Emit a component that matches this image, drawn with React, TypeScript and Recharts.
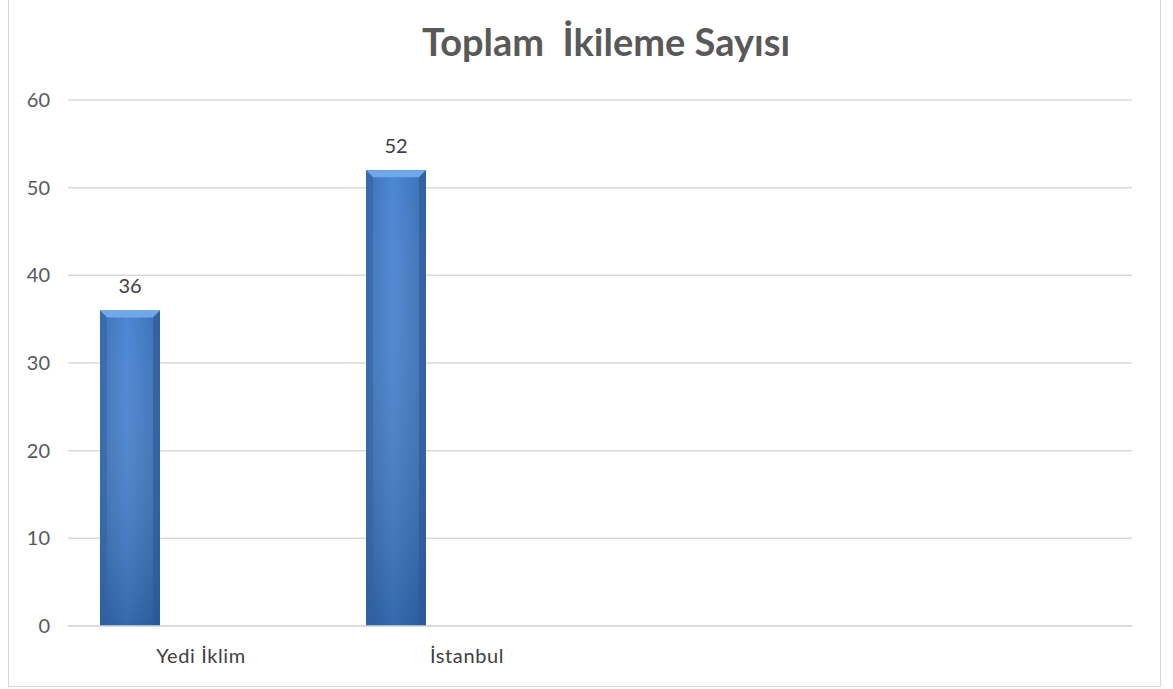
import { BarChart, Bar, XAxis, YAxis, CartesianGrid, LabelList } from "recharts";

// Excel-style clustered column: only the first series has values
const categories = ["Yedi İklim", "İstanbul", "", " "];
const ikilemeSayisi = [36, 52, null, null];
const bosSeri1 = [null, null, null, null];
const bosSeri2 = [null, null, null, null];
const yTicks = [0, 10, 20, 30, 40, 50, 60];

const data = categories.map((name, i) => ({
  name,
  ikileme: ikilemeSayisi[i],
  bos1: bosSeri1[i],
  bos2: bosSeri2[i],
}));

const FONT = "Lato, 'Open Sans', sans-serif";

const BevelBar = (props: any) => {
  const { x, y, width, height } = props;
  if (!height || height <= 0) return null;
  const b = 7;
  return (
    <g>
      <rect x={x} y={y} width={width} height={height} fill="url(#barH)" />
      <rect x={x} y={y} width={width} height={height} fill="url(#barV)" />
      <polygon
        points={`${x},${y} ${x + width},${y} ${x + width - b},${y + b} ${x + b},${y + b}`}
        fill="#6ea7ea"
      />
      <polygon
        points={`${x},${y} ${x + b},${y + b} ${x + b},${y + height} ${x},${y + height}`}
        fill="#2f63a8"
        opacity={0.55}
      />
      <polygon
        points={`${x + width},${y} ${x + width - b},${y + b} ${x + width - b},${y + height} ${x + width},${y + height}`}
        fill="#2a5896"
        opacity={0.6}
      />
    </g>
  );
};

const App = () => {
  return (
    <div
      style={{
        position: "absolute",
        left: 8,
        top: 0,
        width: 1151,
        height: 686,
        borderLeft: "1.5px solid #d9d9d9",
        borderRight: "1.5px solid #d9d9d9",
        borderBottom: "1.5px solid #d9d9d9",
        background: "#fff",
        fontFamily: FONT,
      }}
    >
      <div
        style={{
          position: "absolute",
          left: 0,
          width: 1194,
          top: 18,
          textAlign: "center",
          fontSize: 38,
          fontWeight: 700,
          color: "#595959",
          whiteSpace: "pre",
        }}
      >
        Toplam  İkileme Sayısı
      </div>
      <BarChart
        width={1151}
        height={686}
        data={data}
        margin={{ top: 100, right: 28, left: 0, bottom: 0 }}
        barGap={11}
        style={{ position: "absolute", left: 0, top: 0 }}
      >
        <defs>
          <linearGradient id="barH" x1="0" y1="0" x2="1" y2="0">
            <stop offset="0%" stopColor="#3469b0" />
            <stop offset="45%" stopColor="#4281d2" />
            <stop offset="100%" stopColor="#3167ad" />
          </linearGradient>
          <linearGradient id="barV" x1="0" y1="0" x2="0" y2="1">
            <stop offset="0%" stopColor="#ffffff" stopOpacity={0.05} />
            <stop offset="100%" stopColor="#1c3f70" stopOpacity={0.35} />
          </linearGradient>
        </defs>
        <CartesianGrid vertical={false} stroke="#d9d9d9" strokeWidth={1.5} />
        <XAxis
          dataKey="name"
          axisLine={{ stroke: "#d9d9d9", strokeWidth: 1.5 }}
          tickLine={false}
          height={60}
          tickMargin={17}
          interval={0}
          tick={{ fill: "#404040", fontSize: 20, fontFamily: FONT, letterSpacing: 0.6 }}
        />
        <YAxis
          domain={[0, 60]}
          ticks={yTicks}
          width={59}
          axisLine={false}
          tickLine={false}
          tickMargin={12}
          tick={{ fill: "#595959", fontSize: 20, fontFamily: FONT }}
        />
        <Bar dataKey="ikileme" barSize={60} shape={<BevelBar />} isAnimationActive={false}>
          <LabelList
            dataKey="ikileme"
            position="top"
            offset={17}
            fill="#404040"
            fontSize={20}
            fontFamily={FONT}
          />
        </Bar>
        <Bar dataKey="bos1" barSize={60} fill="#4281d2" isAnimationActive={false} />
        <Bar dataKey="bos2" barSize={60} fill="#4281d2" isAnimationActive={false} />
      </BarChart>
    </div>
  );
};

export default App;
